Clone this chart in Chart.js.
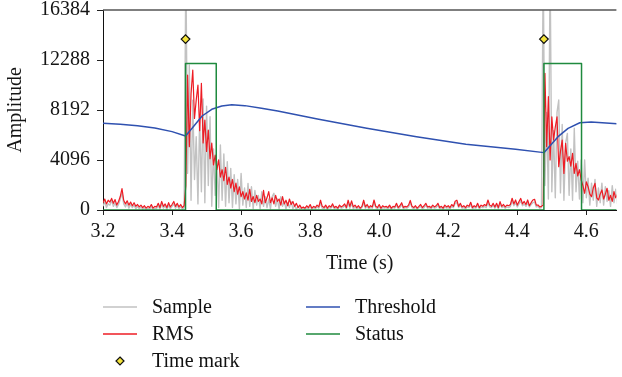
<!DOCTYPE html>
<html><head><meta charset="utf-8">
<script src="https://cdn.jsdelivr.net/npm/chart.js@4.4.1/dist/chart.umd.min.js"></script>
<style>
html,body{margin:0;padding:0;background:#fff;}
#wrap{position:relative;width:622px;height:377px;overflow:hidden;background:#fff;}
#c{position:absolute;left:0;top:0;}
#legend{position:absolute;left:103px;top:293px;display:grid;grid-template-columns:203px auto;grid-auto-rows:27px;font-family:"Liberation Serif","Times New Roman",serif;font-size:20px;color:#111;}
.item{display:flex;align-items:center;white-space:nowrap;}
.mk{width:34px;height:12px;margin-right:15px;flex:none;display:block;}
</style></head><body>
<div id="wrap"><canvas id="c" width="622" height="377"></canvas><div id="legend"></div></div>
<script>
// ---- data ----
const sampleStart = 3.2;      // s, time of first sample
const sampleStep = 0.005;     // s, sample spacing
const timeTicks = [3.2, 3.4, 3.6, 3.8, 4.0, 4.2, 4.4, 4.6];
const ampTicks = [0, 4096, 8192, 12288, 16384];

const sampleValues = [
  300, 700, 200, 500, 400, 800, 300, 600, 200, 450,
  900, 1400, 500, 250, 550, 150, 450, 200, 400, 100,
  300, 100, 250, 50, 200, 0, 150, 50, 300, 0,
  150, 100, 400, 50, 500, 150, 350, 50, 400, 100,
  300, 500, 150, 400, 100, 300, 50, 200, 20000, 3000,
  11880, 800, 9000, 2500, 6000, 500, 7500, 1500, 9090, 600,
  8500, 2000, 7640, 300, 5000, 1200, 4000, 200, 5320, 800,
  4600, 300, 3960, 600, 3410, 200, 2900, 500, 2500, 100,
  3000, 400, 1800, 200, 2180, 300, 1900, 100, 1600, 400,
  1200, 100, 1500, 300, 1100, 200, 900, 100, 1100, 1370,
  300, 900, 100, 1090, 300, 700, 100, 600, 200, 680,
  100, 400, 50, 300, 100, 200, 150, 50, 200, 100,
  300, 50, 200, 100, 250, 150, 600, 150, 100, 250,
  50, 200, 150, 350, 100, 200, 50, 300, 150, 200,
  350, 100, 600, 150, 550, 100, 250, 100, 200, 50,
  200, 600, 150, 300, 100, 200, 150, 600, 200, 100,
  300, 50, 200, 150, 200, 100, 250, 50, 200, 150,
  400, 100, 200, 450, 100, 200, 150, 250, 600, 200,
  100, 250, 50, 200, 300, 100, 200, 400, 150, 200,
  100, 250, 150, 200, 400, 100, 200, 50, 250, 150,
  200, 100, 300, 200, 550, 600, 200, 400, 150, 200,
  100, 250, 200, 450, 100, 200, 150, 400, 100, 250,
  200, 300, 200, 600, 250, 200, 400, 150, 400, 100,
  500, 200, 300, 150, 250, 200, 300, 750, 350, 600,
  250, 500, 750, 350, 500, 300, 600, 250, 450, 600,
  650, 250, 300, 150, 200, 20000, 2000, 8000, 900, 20000,
  1500, 6500, 1000, 8000, 9010, 1400, 7000, 800, 5500, 6280,
  1200, 5000, 800, 6700, 1500, 4000, 900, 4100, 600, 4100,
  1000, 2600, 400, 2200, 800, 2500, 300, 1800, 600, 2200,
  400, 1900, 700, 1600, 300, 2000, 600, 1700, 500
];

const rmsValues = [
  600, 900, 500, 800, 650, 950, 550, 850, 400, 700,
  1100, 1750, 800, 500, 750, 400, 650, 350, 600, 300,
  450, 250, 400, 200, 350, 150, 300, 200, 450, 150,
  300, 250, 550, 200, 700, 300, 500, 200, 600, 250,
  450, 700, 300, 550, 250, 450, 200, 350, 2000, 11060,
  5190, 9500, 11470, 7500, 9000, 10240, 6500, 10380, 5500, 7370,
  4800, 6550, 4200, 5480, 3700, 4500, 3300, 4100, 2700, 3300,
  2400, 3500, 2100, 2700, 1800, 2500, 1500, 2200, 1300, 1900,
  1100, 1500, 900, 1400, 800, 1700, 700, 1100, 600, 1200,
  700, 900, 500, 1600, 600, 1000, 1500, 600, 1000, 500,
  1200, 700, 900, 400, 1100, 500, 800, 350, 900, 450,
  700, 300, 550, 200, 400, 150, 250, 150, 350, 200,
  450, 150, 300, 200, 400, 250, 800, 300, 200, 400,
  150, 350, 250, 500, 200, 300, 150, 400, 250, 350,
  500, 200, 800, 300, 750, 250, 400, 200, 350, 150,
  300, 800, 250, 450, 200, 350, 250, 820, 300, 200,
  450, 150, 350, 250, 300, 200, 400, 150, 300, 250,
  550, 200, 350, 600, 200, 300, 250, 400, 780, 300,
  200, 350, 150, 300, 450, 200, 350, 550, 250, 300,
  200, 400, 250, 350, 550, 200, 300, 150, 400, 250,
  350, 200, 450, 300, 720, 800, 300, 550, 250, 350,
  200, 400, 300, 630, 200, 350, 250, 550, 200, 400,
  300, 450, 350, 820, 400, 300, 550, 250, 550, 200,
  680, 300, 450, 250, 400, 350, 450, 960, 500, 820,
  400, 700, 950, 500, 700, 450, 820, 350, 600, 820,
  880, 400, 410, 250, 300, 400, 11200, 5190, 9280, 4100,
  7640, 5730, 6800, 7640, 3550, 4800, 5730, 3000, 5460, 4000,
  4370, 3600, 4640, 3000, 3820, 2800, 3300, 2460, 2000, 1370,
  2300, 1910, 1300, 1090, 1800, 2180, 1000, 820, 1300, 1640,
  900, 1300, 1780, 800, 1200, 700, 1500, 1000, 1300
];

const thresholdTime = [3.20, 3.25, 3.30, 3.35, 3.40, 3.439, 3.458, 3.487, 3.515, 3.544, 3.573, 3.611, 3.659, 3.706, 3.821, 3.964, 4.108, 4.251, 4.395, 4.477, 4.518, 4.547, 4.581, 4.614, 4.69];
const thresholdValues = [7100, 7020, 6900, 6720, 6420, 6060, 6690, 7700, 8250, 8520, 8630, 8550, 8330, 8110, 7455, 6690, 6005, 5382, 4972, 4700, 6005, 6690, 7150, 7210, 7060];

const statusTime = [3.2, 3.439, 3.439, 3.528, 3.528, 4.477, 4.477, 4.586, 4.586, 4.69];
const statusValues = [0, 0, 12000, 12000, 0, 0, 12000, 12000, 0, 0];

const markTime = [3.439, 4.477];
const markValues = [14000, 14000];

// ---- build ----
if (sampleValues.length !== rmsValues.length) throw new Error('length mismatch ' + sampleValues.length + ' ' + rmsValues.length);
const sampleTime = sampleValues.map((_, i) => +(sampleStart + i * sampleStep).toFixed(3));
const toPoints = (xs, ys) => xs.map((x, i) => ({x: x, y: ys[i]}));
const FONT = "'Liberation Serif', 'Times New Roman', serif";
const INK = '#151515';

const framePlugin = {
  id: 'frame',
  afterDatasetsDraw(chart) {
    const {ctx, chartArea: a} = chart;
    ctx.save();
    ctx.strokeStyle = '#555';
    ctx.lineWidth = 1.5;
    ctx.beginPath();
    ctx.moveTo(a.left, a.top);
    ctx.lineTo(a.right, a.top);
    ctx.stroke();
    ctx.restore();
  }
};

const chart = new Chart(document.getElementById('c'), {
  type: 'line',
  data: {
    datasets: [
      {label: 'Sample', data: toPoints(sampleTime, sampleValues), borderColor: '#c2c2c2', borderWidth: 1.4, order: 5},
      {label: 'Threshold', data: toPoints(thresholdTime, thresholdValues), borderColor: '#2f51b0', borderWidth: 1.5, order: 3},
      {label: 'RMS', data: toPoints(sampleTime, rmsValues), borderColor: '#ee1c24', borderWidth: 1.2, order: 4},
      {label: 'Status', data: toPoints(statusTime, statusValues), borderColor: '#1f8a3e', borderWidth: 1.5, order: 2},
      {label: 'Time mark', data: toPoints(markTime, markValues), showLine: false, pointStyle: 'rectRot',
       pointRadius: 4.3, pointBackgroundColor: '#f3e33b', pointBorderColor: '#111', pointBorderWidth: 1.3,
       backgroundColor: '#f3e33b', borderColor: '#111', order: 1}
    ]
  },
  options: {
    responsive: false,
    animation: false,
    devicePixelRatio: 1,
    events: [],
    layout: {padding: {left: 0, top: 0, right: 0, bottom: 101}},
    elements: {
      line: {tension: 0, borderJoinStyle: 'round', fill: false},
      point: {radius: 0, hoverRadius: 0}
    },
    plugins: {legend: {display: false}, tooltip: {enabled: false}},
    scales: {
      x: {
        type: 'linear', min: 3.2, max: 4.687,
        afterBuildTicks: s => { s.ticks = timeTicks.map(v => ({value: v})); },
        afterFit: s => { s.height = 66; },
        ticks: {callback: v => Number(v).toFixed(1), font: {family: FONT, size: 20, lineHeight: 1.2}, color: INK, padding: 5, maxRotation: 0, autoSkip: false},
        grid: {display: true, drawOnChartArea: false, drawTicks: true, tickLength: 5, color: '#222', lineWidth: 1},
        border: {display: true, color: '#111', width: 1},
        title: {display: true, text: 'Time (s)', font: {family: FONT, size: 20, lineHeight: 1.2}, color: INK, padding: {top: 8, bottom: 0}}
      },
      y: {
        type: 'linear', min: 0, max: 16384,
        afterBuildTicks: s => { s.ticks = ampTicks.map(v => ({value: v})); },
        afterFit: s => { s.width = 103; s.paddingTop = 10; s.paddingBottom = 10; },
        ticks: {callback: v => String(v), font: {family: FONT, size: 20, lineHeight: 1.0}, color: INK, padding: 7, autoSkip: false},
        grid: {display: true, drawOnChartArea: false, drawTicks: true, tickLength: 6, color: '#222', lineWidth: 1},
        border: {display: true, color: '#111', width: 1},
        title: {display: true, text: 'Amplitude', font: {family: FONT, size: 20, lineHeight: 1.2}, color: INK, padding: {top: 4, bottom: 0}}
      }
    }
  },
  plugins: [framePlugin]
});

// ---- HTML legend built from the chart's datasets ----
const legendEl = document.getElementById('legend');
const SVGNS = 'http://www.w3.org/2000/svg';
chart.data.datasets.forEach(ds => {
  const item = document.createElement('div');
  item.className = 'item';
  const svg = document.createElementNS(SVGNS, 'svg');
  svg.setAttribute('class', 'mk');
  svg.setAttribute('width', '34'); svg.setAttribute('height', '12');
  if (ds.showLine === false) {
    const p = document.createElementNS(SVGNS, 'polygon');
    p.setAttribute('points', '17,2 21,6 17,10 13,6');
    p.setAttribute('fill', ds.pointBackgroundColor);
    p.setAttribute('stroke', ds.pointBorderColor);
    p.setAttribute('stroke-width', '1.2');
    svg.appendChild(p);
  } else {
    const l = document.createElementNS(SVGNS, 'line');
    l.setAttribute('x1', '0'); l.setAttribute('x2', '34');
    l.setAttribute('y1', '6'); l.setAttribute('y2', '6');
    l.setAttribute('stroke', ds.borderColor);
    l.setAttribute('stroke-width', '1.6');
    svg.appendChild(l);
  }
  const span = document.createElement('span');
  span.textContent = ds.label;
  item.appendChild(svg);
  item.appendChild(span);
  legendEl.appendChild(item);
});
</script></body></html>
